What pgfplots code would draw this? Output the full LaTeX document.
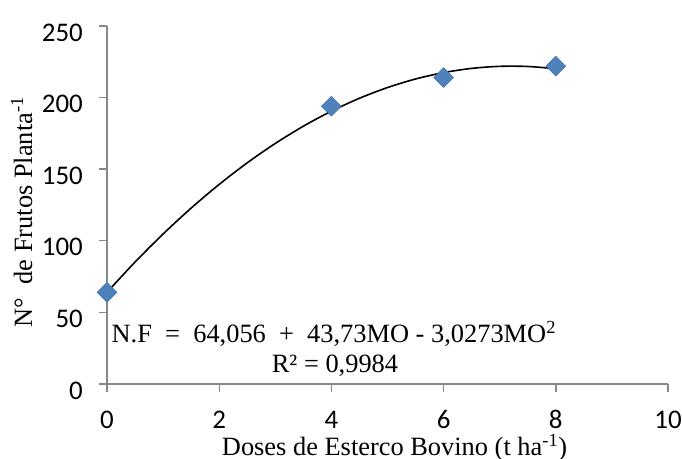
\documentclass[border=0pt]{standalone}
\usepackage{pgfplots}
\pgfplotsset{compat=1.18}
\usepackage{fontspec}
\setmainfont{Liberation Serif}
\newfontfamily\calibri{Carlito}
\definecolor{mkfill}{HTML}{4F81BD}
\definecolor{mkedge}{HTML}{3F6FA8}
\definecolor{axgray}{HTML}{888888}
\begin{document}
\begin{tikzpicture}
\begin{axis}[
  scale only axis,
  width=561bp, height=358bp,
  xmin=0, xmax=10, ymin=0, ymax=250,
  xtick={0,2,...,10}, ytick={0,50,...,250},
  axis lines*=left,
  axis line style={axgray, line width=1.4bp},
  tick style={axgray, line width=1.4bp},
  tickpos=left,
  tick align=outside,
  major tick length=8bp,
  /pgf/number format/assume math mode=true,
  ticklabel style={font=\calibri\fontsize{27}{27}\selectfont, inner sep=0pt},
  xticklabel style={anchor=base, yshift=-36bp},
  yticklabel style={anchor=east, xshift=-16bp, yshift=-6.5bp},
  xlabel={Doses de Esterco Bovino (t ha\textsuperscript{-1})},
  ylabel={N°\ \ de Frutos Planta\textsuperscript{-1}},
  label style={font=\fontsize{26.5}{26.5}\selectfont, inner sep=0pt},
  xlabel style={at={(axis description cs:0.5125,-0.2)}, anchor=base},
  ylabel style={at={(axis description cs:-0.152,0.48)}, anchor=center},
  clip=false,
]
\addplot[black, line width=1.6bp, smooth] coordinates {
(0,64.056) (0.5,85.164) (1,104.759) (1.5,122.840) (2,139.407) (2.5,154.460)
(3,168.000) (3.5,180.027) (4,190.539) (4.5,199.538) (5,207.024) (5.5,212.995)
(6,217.453) (6.5,220.398) (7,221.828) (7.5,221.745) (8,220.149)
};
\addplot[only marks, mark=square*, mark size=7bp,
  mark options={rotate=45, fill=mkfill, draw=mkedge, line width=0.5bp}]
  coordinates {(0,64) (4,194) (6,214) (8,222)};
\node[anchor=base west, font=\fontsize{26.5}{26.5}\selectfont, inner sep=0pt] at (axis cs:0.08,29.3)
  {N.F \ = \ 64,056 \ + \ 43,73MO - 3,0273MO\textsuperscript{2}};
\node[anchor=base, font=\fontsize{26.5}{26.5}\selectfont, inner sep=0pt] at (axis cs:4.064,7.7)
  {R² = 0,9984};
\end{axis}
\pgfresetboundingbox
\path ([shift={(-107bp,-75bp)}]current axis.south west) rectangle ([shift={(575bp,384bp)}]current axis.south west);
\end{tikzpicture}
\end{document}
